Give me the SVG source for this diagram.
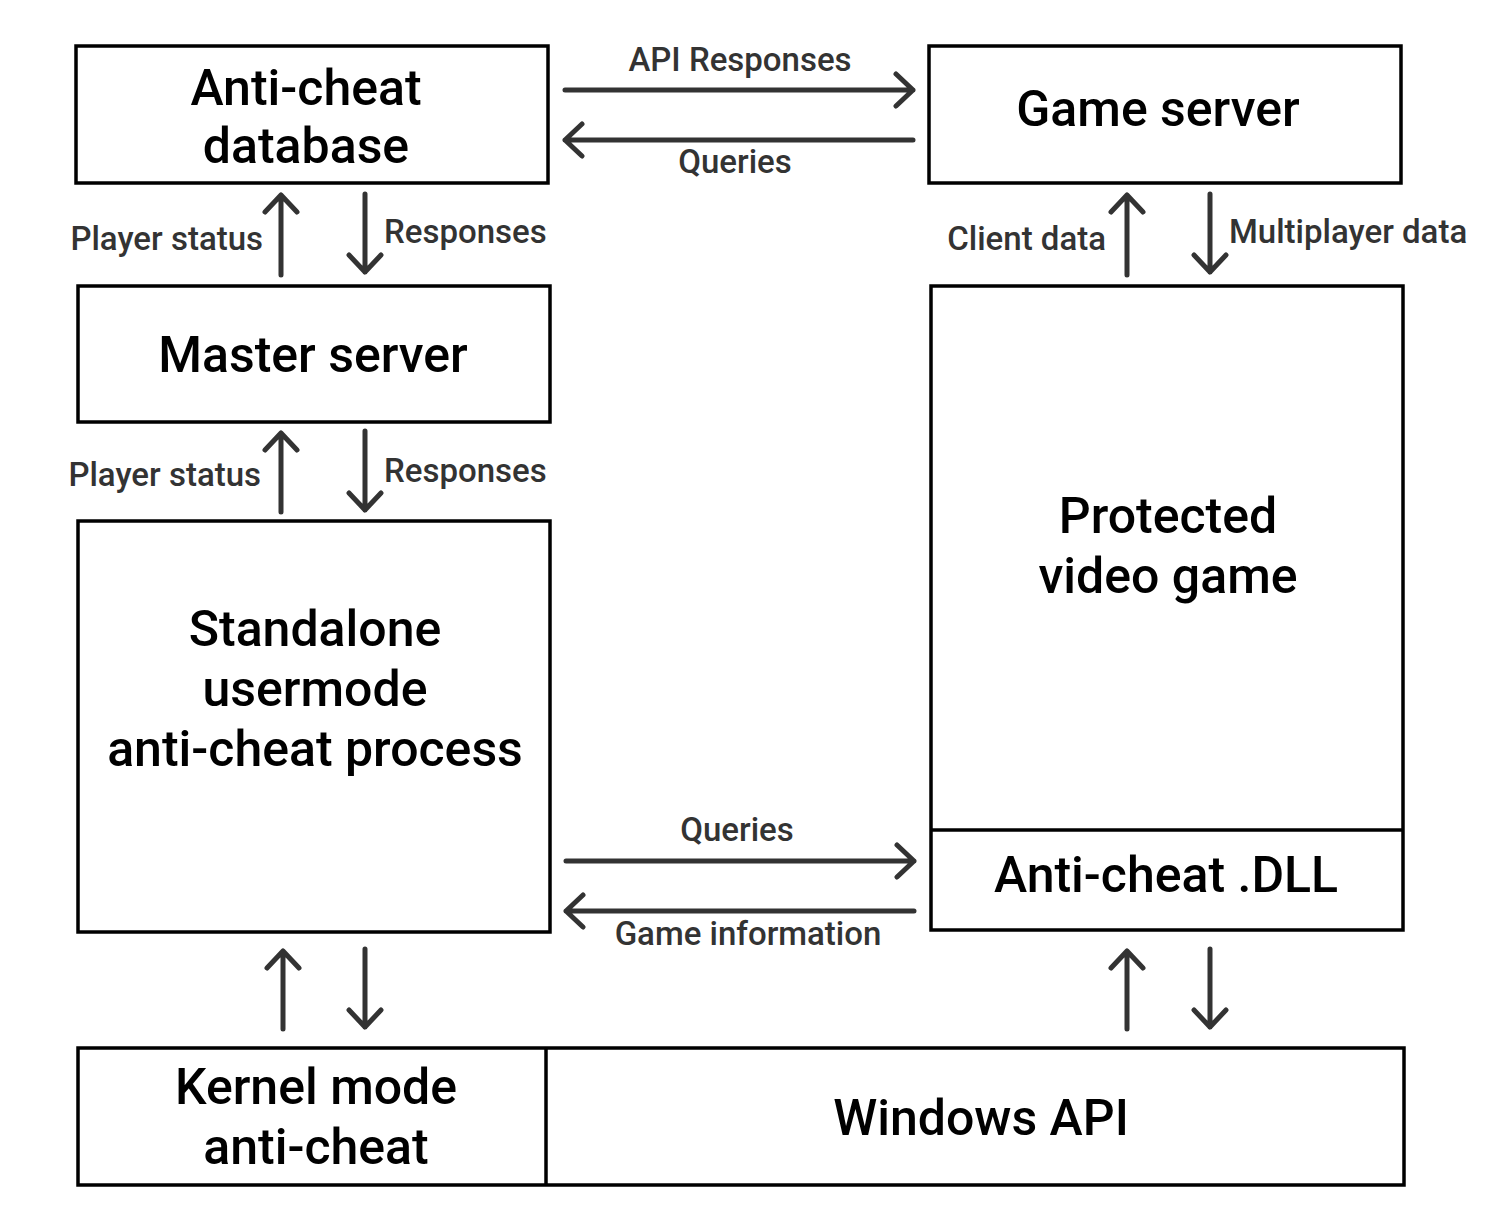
<svg xmlns="http://www.w3.org/2000/svg" width="1487" height="1229" viewBox="0 0 1487 1229">
<style>
.box{fill:#fff;stroke:#000;stroke-width:3.5}
.div{stroke:#000;stroke-width:3.5}
.nt{font-family:Roboto,"Liberation Sans",sans-serif;font-weight:500;font-size:50px;fill:#000;text-anchor:middle}
.lb{font-family:Roboto,"Liberation Sans",sans-serif;font-weight:500;font-size:33px;fill:#333}
.ar{fill:none;stroke:#333;stroke-width:5;stroke-linecap:round;stroke-linejoin:round}
</style>
<rect width="1487" height="1229" fill="#fff"/>
<g id="db"><rect class="box" x="76" y="46" width="472" height="137"/>
<text class="nt" x="306" y="105">Anti-cheat</text><text class="nt" x="306" y="163">database</text></g>
<g id="gs"><rect class="box" x="929" y="46" width="472" height="137"/>
<text class="nt" x="1158" y="126">Game server</text></g>
<g id="ms"><rect class="box" x="78" y="286" width="472" height="136"/>
<text class="nt" x="313" y="372">Master server</text></g>
<g id="sa"><rect class="box" x="78" y="521" width="472" height="411"/>
<text class="nt" x="315" y="646">Standalone</text><text class="nt" x="315" y="706">usermode</text><text class="nt" x="315" y="766">anti-cheat process</text></g>
<g id="pvg"><rect class="box" x="931" y="286" width="472" height="644"/>
<line class="div" x1="931" y1="830" x2="1403" y2="830"/>
<text class="nt" x="1168" y="533">Protected</text><text class="nt" x="1168" y="593">video game</text>
<text class="nt" x="1166" y="892">Anti-cheat .DLL</text></g>
<g id="bottom"><rect class="box" x="78" y="1048" width="1326" height="137"/>
<line class="div" x1="546" y1="1048" x2="546" y2="1185"/>
<text class="nt" x="316" y="1104">Kernel mode</text><text class="nt" x="316" y="1164">anti-cheat</text>
<text class="nt" x="981" y="1135">Windows API</text></g>
<g id="connectors">
<path class="ar" d="M565 90H913M896 74L913 90L896 106"/>
<path class="ar" d="M913 140H565M582 124L565 140L582 156"/>
<path class="ar" d="M281 275V195M265 212L281 195L297 212"/>
<path class="ar" d="M365 194V272M349 255L365 272L381 255"/>
<path class="ar" d="M1127 275V195M1111 212L1127 195L1143 212"/>
<path class="ar" d="M1210 194V272M1194 255L1210 272L1226 255"/>
<path class="ar" d="M281 512V433M265 450L281 433L297 450"/>
<path class="ar" d="M365 431V510M349 493L365 510L381 493"/>
<path class="ar" d="M566 861H914M897 845L914 861L897 877"/>
<path class="ar" d="M914 911H566M583 895L566 911L583 927"/>
<path class="ar" d="M283 1029V951M267 968L283 951L299 968"/>
<path class="ar" d="M365 949V1027M349 1010L365 1027L381 1010"/>
<path class="ar" d="M1127 1029V951M1111 968L1127 951L1143 968"/>
<path class="ar" d="M1210 949V1027M1194 1010L1210 1027L1226 1010"/>
<text class="lb" x="740" y="71" text-anchor="middle">API Responses</text>
<text class="lb" x="735" y="173" text-anchor="middle">Queries</text>
<text class="lb" x="263" y="250" text-anchor="end">Player status</text>
<text class="lb" x="384" y="243">Responses</text>
<text class="lb" x="1106" y="250" text-anchor="end">Client data</text>
<text class="lb" x="1229" y="243">Multiplayer data</text>
<text class="lb" x="261" y="486" text-anchor="end">Player status</text>
<text class="lb" x="384" y="482">Responses</text>
<text class="lb" x="737" y="841" text-anchor="middle">Queries</text>
<text class="lb" x="748" y="945" text-anchor="middle">Game information</text>
</g>
</svg>
